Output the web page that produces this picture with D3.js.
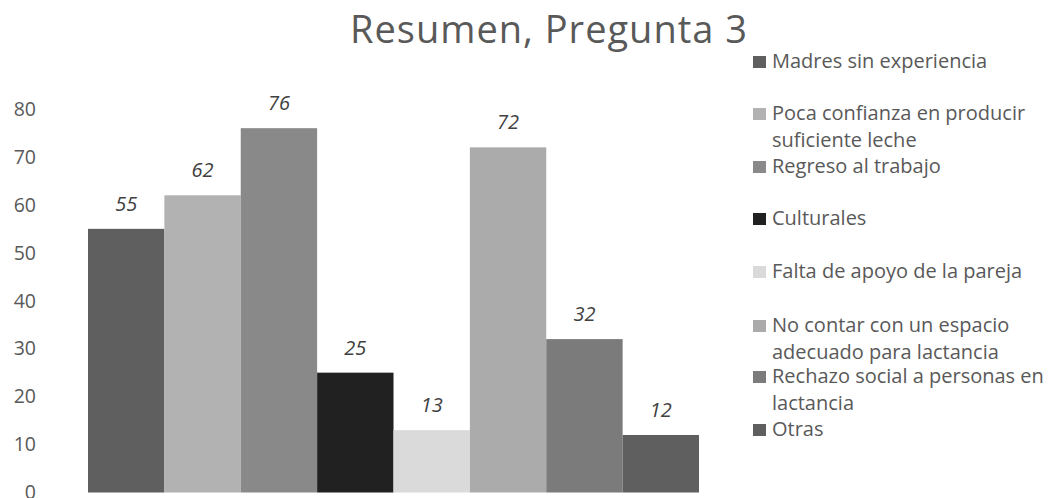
<!DOCTYPE html>
<html><head><meta charset="utf-8">
<script src="https://cdn.jsdelivr.net/npm/d3@7"></script>
<style>body{margin:0;background:#fff}svg{display:block}</style>
</head><body>
<svg id="c" width="1057" height="498"></svg>
<script>
const categories = ["Madres sin experiencia","Poca confianza en producir suficiente leche","Regreso al trabajo","Culturales","Falta de apoyo de la pareja","No contar con un espacio adecuado para lactancia","Rechazo social a personas en lactancia","Otras"];
const values = [55, 62, 76, 25, 13, 72, 32, 12];
const colors = ["#5f5f5f","#b2b2b2","#898989","#212121","#dadada","#ababab","#7b7b7b","#5f5f5f"];
const legendLines = [["Madres sin experiencia"],["Poca confianza en producir","suficiente leche"],["Regreso al trabajo"],["Culturales"],["Falta de apoyo de la pareja"],["No contar con un espacio","adecuado para lactancia"],["Rechazo social a personas en","lactancia"],["Otras"]];
const yTicks = [0,10,20,30,40,50,60,70,80];
const title = "Resumen, Pregunta 3";

const svg = d3.select("#c");
const font = "'Open Sans', sans-serif";
const y = d3.scaleLinear().domain([0,80]).range([492.5,109]);
const x = d3.scaleBand().domain(categories).range([88,699]).padding(0);

// title
svg.append("text").attr("x",549).attr("y",43).attr("text-anchor","middle")
  .attr("font-family",font).attr("font-size",38).attr("letter-spacing",1).attr("fill","#595959").text(title);

// y axis
const ax = svg.append("g").attr("transform","translate(36,0)")
  .call(d3.axisLeft(y).tickValues(yTicks).tickSize(0).tickPadding(0));
ax.select(".domain").remove();
ax.selectAll("text").attr("font-family",font).attr("font-size",19.5).attr("fill","#595959");

// bars
svg.append("g").selectAll("rect").data(values).join("rect")
  .attr("x",(d,i)=>x(categories[i])).attr("width",x.bandwidth())
  .attr("y",d=>y(d)).attr("height",d=>y(0)-y(d))
  .attr("fill",(d,i)=>colors[i]);

// labels
svg.append("g").selectAll("text").data(values).join("text")
  .attr("x",(d,i)=>x(categories[i])+x.bandwidth()/2).attr("y",d=>y(d)-18)
  .attr("text-anchor","middle").attr("font-family",font).attr("font-size",20)
  .attr("font-style","italic").attr("fill","#404040").text(d=>d);

// legend
const legBase = [68,120,173,225,278,332,383,436];
const lg = svg.append("g");
legendLines.forEach((lines,i)=>{
  lg.append("rect").attr("x",753).attr("y",legBase[i]-12).attr("width",13).attr("height",12).attr("fill",colors[i]);
  lines.forEach((t,j)=>{
    lg.append("text").attr("x",772).attr("y",legBase[i]+j*26.5)
      .attr("font-family",font).attr("font-size",20).attr("fill","#595959").text(t);
  });
});
</script>
</body></html>
